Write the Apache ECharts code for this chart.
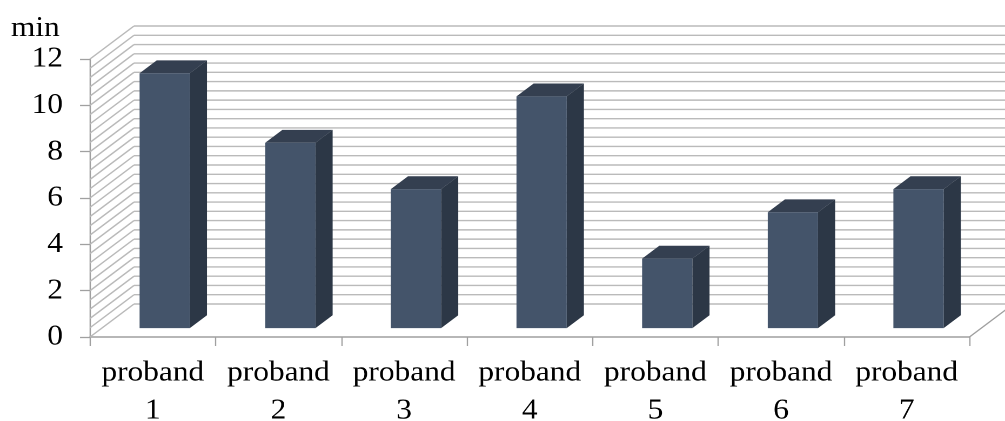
<!DOCTYPE html>
<html>
<head>
<meta charset="utf-8">
<title>proband</title>
<script src="https://cdn.jsdelivr.net/npm/echarts@6/dist/echarts.min.js"></script>
<style>
  html, body { margin: 0; padding: 0; background: #ffffff; }
  #stage { width: 1005px; height: 421px; overflow: hidden; position: relative; }
  /* the chart is laid out narrower and widened, giving the broad serif lettering */
  #chart { width: 930px; height: 421px; transform: scaleX(1.08065); transform-origin: 0 0; }
</style>
</head>
<body>
<div id="stage"><div id="chart"></div></div>
<script>
// categories and measured times (minutes)
const categories = ['proband\n1', 'proband\n2', 'proband\n3', 'proband\n4', 'proband\n5', 'proband\n6', 'proband\n7'];
const minutes = [11, 8, 6, 10, 3, 5, 6];
// value axis range and steps
const axisMin = 0;
const axisMax = 12;
const majorStep = 2;
const minorStep = 0.4;

// perspective: offset of the back wall from the front plane
const DEPTH_X = 40.7;
const DEPTH_Y = -33;
const BAR_FRONT = 0.27;   // fraction of depth where the bar front sits
const BAR_BACK = 0.66;    // fraction of depth where the bar back sits
const FONT = 'Liberation Serif';
const WALL_LINE = '#bababa';
const AXIS_LINE = '#a0a0a0';

const chart = echarts.init(document.getElementById('chart'), null, { renderer: 'canvas', devicePixelRatio: 2 });

function renderWalls(params, api) {
  const cs = params.coordSys;
  const left = cs.x;
  const right = cs.x + cs.width;
  const children = [];
  const n = Math.round((axisMax - axisMin) / minorStep);
  for (let i = 0; i <= n; i++) {
    const v = axisMin + i * minorStep;
    const y = api.coord([0, v])[1];
    // side wall stripe
    children.push({
      type: 'line',
      shape: { x1: left, y1: y, x2: left + DEPTH_X, y2: y + DEPTH_Y },
      style: { stroke: WALL_LINE, lineWidth: 1.4 }
    });
    // back wall gridline
    children.push({
      type: 'line',
      shape: { x1: left + DEPTH_X, y1: y + DEPTH_Y, x2: right + DEPTH_X + 40, y2: y + DEPTH_Y },
      style: { stroke: WALL_LINE, lineWidth: 1.4 }
    });
  }
  // right edge of the floor
  const y0 = api.coord([0, axisMin])[1];
  children.push({
    type: 'line',
    shape: { x1: right, y1: y0, x2: right + DEPTH_X, y2: y0 + DEPTH_Y },
    style: { stroke: AXIS_LINE, lineWidth: 1.3 }
  });
  return { type: 'group', children: children };
}

function renderBar(params, api) {
  const idx = api.value(0);
  const val = api.value(1);
  const base = api.coord([idx, axisMin]);
  const top = api.coord([idx, val]);
  const band = api.size([1, 0])[0];
  const w = band * 0.4;
  const ox = DEPTH_X * BAR_FRONT, oy = DEPTH_Y * BAR_FRONT;
  const dx = DEPTH_X * (BAR_BACK - BAR_FRONT), dy = DEPTH_Y * (BAR_BACK - BAR_FRONT);
  const x0 = base[0] - w / 2 + ox;
  const x1 = x0 + w;
  const yb = base[1] + oy;
  const yt = top[1] + oy;
  return {
    type: 'group',
    children: [
      { type: 'polygon', shape: { points: [[x1, yt], [x1 + dx, yt + dy], [x1 + dx, yb + dy], [x1, yb]] },
        style: { fill: '#2c3746' } },
      { type: 'polygon', shape: { points: [[x0, yt], [x1, yt], [x1 + dx, yt + dy], [x0 + dx, yt + dy]] },
        style: { fill: '#343f50' } },
      { type: 'rect', shape: { x: x0, y: yt, width: w, height: yb - yt },
        style: { fill: '#44546a' } }
    ]
  };
}

chart.setOption({
  animation: false,
  backgroundColor: '#ffffff',
  grid: { left: 83.28, right: 32.9, top: 59, bottom: 84, outerBoundsMode: 'none' },
  xAxis: {
    type: 'category',
    data: categories,
    boundaryGap: true,
    axisLine: { show: true, lineStyle: { color: AXIS_LINE, width: 1.5 } },
    axisTick: { show: true, length: 9, alignWithLabel: false, lineStyle: { color: AXIS_LINE, width: 1.2 } },
    axisLabel: { interval: 0, margin: 17, color: '#000000', fontFamily: FONT, fontSize: 29, lineHeight: 38 },
    splitLine: { show: false }
  },
  yAxis: {
    type: 'value',
    min: axisMin,
    max: axisMax,
    interval: majorStep,
    name: 'min',
    nameLocation: 'end',
    nameGap: 16,
    nameTextStyle: { color: '#000000', fontFamily: FONT, fontSize: 29, align: 'right', padding: [0, 28, 0, 0] },
    axisLine: { show: true, lineStyle: { color: AXIS_LINE, width: 1.3 } },
    axisTick: { show: true, length: 9.25, lineStyle: { color: AXIS_LINE, width: 1.3 } },
    axisLabel: { margin: 25, color: '#000000', fontFamily: FONT, fontSize: 29 },
    splitLine: { show: false }
  },
  series: [
    {
      type: 'custom',
      name: 'walls',
      renderItem: renderWalls,
      data: [[0, 0]],
      encode: { x: 0, y: 1 },
      silent: true,
      z: 1
    },
    {
      type: 'custom',
      name: 'minutes',
      renderItem: renderBar,
      data: minutes.map((v, i) => [i, v]),
      encode: { x: 0, y: 1 },
      z: 2
    }
  ]
});
</script>
</body>
</html>
